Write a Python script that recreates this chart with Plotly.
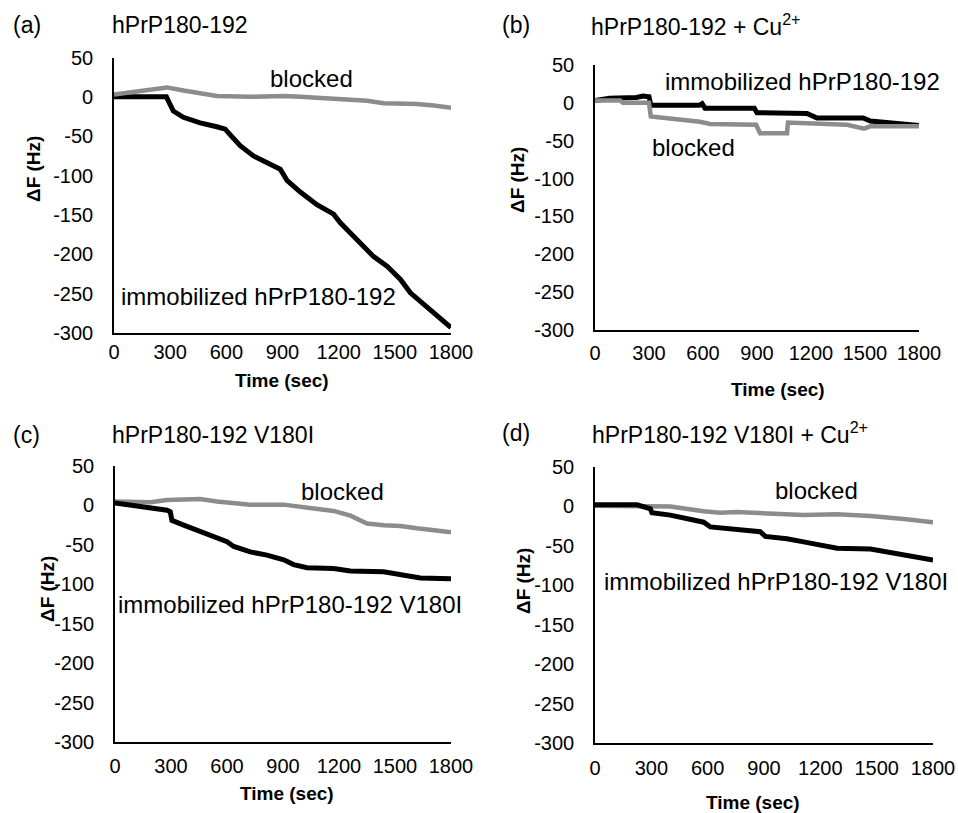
import plotly.graph_objects as go

# ---------------- data ----------------
t_a_imm = [0, 100, 280, 300, 317, 371, 460, 549, 594, 620, 674, 745, 817, 888, 924, 995, 1084, 1173, 1209, 1280, 1352, 1387, 1458, 1530, 1583, 1637, 1708, 1800]
f_a_imm = [0, 0, 0, -10, -18, -26, -33, -38, -41, -48, -62, -75, -84, -92, -106, -121, -137, -149, -160, -177, -194, -203, -215, -232, -249, -260, -274, -293]
t_a_blk = [0, 103, 193, 282, 371, 460, 549, 727, 906, 995, 1173, 1352, 1441, 1619, 1708, 1800]
f_a_blk = [3, 6, 10, 12, 8, 5, 1, 0, 1, 0, -3, -5, -8, -9, -11, -14]

t_b_imm = [0, 81, 230, 267, 300, 310, 581, 595, 611, 885, 900, 1178, 1233, 1490, 1530, 1674, 1800]
f_b_imm = [3, 6, 7, 9, 8, -3, -3, -1, -7, -7, -13, -14, -20, -20, -24, -27, -30]
t_b_blk = [0, 140, 155, 300, 310, 455, 583, 639, 895, 917, 1067, 1072, 1233, 1400, 1495, 1530, 1619, 1800]
f_b_blk = [3, 3, 0, 0, -18, -21, -25, -28, -29, -40, -40, -26, -28, -29, -34, -31, -31, -31]

t_c_imm = [0, 100, 189, 279, 296, 305, 368, 457, 546, 600, 636, 725, 814, 904, 957, 1029, 1171, 1261, 1439, 1529, 1636, 1800]
f_c_imm = [3, 0, -3, -6, -8, -19, -25, -33, -40, -46, -52, -59, -63, -69, -75, -79, -80, -83, -84, -88, -92, -93]
t_c_blk = [0, 189, 279, 457, 546, 725, 904, 1082, 1171, 1261, 1350, 1439, 1529, 1618, 1707, 1800]
f_c_blk = [5, 4, 7, 8, 5, 1, 1, -4, -7, -13, -23, -25, -26, -29, -31, -34]

t_d_imm = [0, 224, 295, 303, 401, 490, 579, 614, 756, 880, 907, 1022, 1111, 1200, 1289, 1467, 1556, 1645, 1800]
f_d_imm = [2, 2, -3, -8, -11, -15, -20, -26, -30, -32, -38, -41, -45, -49, -53, -54, -58, -62, -68]
t_d_blk = [0, 224, 401, 579, 668, 756, 934, 1111, 1289, 1467, 1645, 1800]
f_d_blk = [1, 1, 0, -6, -8, -7, -9, -11, -10, -12, -16, -20]

x_ticks = [0, 300, 600, 900, 1200, 1500, 1800]
y_ticks = [50, 0, -50, -100, -150, -200, -250, -300]

panel_letters = ["(a)", "(b)", "(c)", "(d)"]
panel_titles = ["hPrP180-192", "hPrP180-192 + Cu<sup>2+</sup>",
                "hPrP180-192 V180I", "hPrP180-192 V180I + Cu<sup>2+</sup>"]
imm_labels = ["immobilized hPrP180-192", "immobilized hPrP180-192",
              "immobilized hPrP180-192 V180I", "immobilized hPrP180-192 V180I"]
blk_label = "blocked"
x_title = "Time (sec)"
y_title = "ΔF (Hz)"

# ---------------- layout geometry (pixels) ----------------
W, H = 958, 813
def px(x):
    return x / W
def py(y):
    return 1 - y / H

# plot areas: (left, right, top, bottom)
areas = [(114, 451, 57.5, 333), (595, 919, 65, 330),
         (115, 451, 466, 742), (595, 933, 467, 743)]

BLACK = "#000000"
GRAY = "#8c8c8c"
FONT = "Liberation Sans, Arial, sans-serif"

fig = go.Figure()

series = [
    (t_a_imm, f_a_imm, t_a_blk, f_a_blk, True),
    (t_b_imm, f_b_imm, t_b_blk, f_b_blk, True),
    (t_c_imm, f_c_imm, t_c_blk, f_c_blk, False),
    (t_d_imm, f_d_imm, t_d_blk, f_d_blk, False),
]

for i, (ti, fi, tb, fb, gray_on_top) in enumerate(series):
    xa = "x" if i == 0 else f"x{i+1}"
    ya = "y" if i == 0 else f"y{i+1}"
    imm = go.Scatter(x=ti, y=fi, mode="lines", line=dict(color=BLACK, width=5),
                     xaxis=xa, yaxis=ya, showlegend=False, name="immobilized")
    blk = go.Scatter(x=tb, y=fb, mode="lines", line=dict(color=GRAY, width=4.5),
                     xaxis=xa, yaxis=ya, showlegend=False, name="blocked")
    if gray_on_top:
        fig.add_trace(imm)
        fig.add_trace(blk)
    else:
        fig.add_trace(blk)
        fig.add_trace(imm)

layout = dict(
    width=W, height=H,
    margin=dict(l=0, r=0, t=0, b=0, autoexpand=False),
    paper_bgcolor="white", plot_bgcolor="white",
    font=dict(family=FONT, size=20, color="#000000"),
    showlegend=False,
)

xlab_pad = [0, 4, 5, 6]
for i, (l, r, t, b) in enumerate(areas):
    sx = "xaxis" if i == 0 else f"xaxis{i+1}"
    sy = "yaxis" if i == 0 else f"yaxis{i+1}"
    ya = "y" if i == 0 else f"y{i+1}"
    xa = "x" if i == 0 else f"x{i+1}"
    layout[sx] = dict(domain=[px(l), px(r)], range=[0, 1800], anchor=ya,
                      tickvals=x_ticks, ticktext=[str(v) for v in x_ticks],
                      showgrid=False, zeroline=False, showline=True,
                      linecolor="#000000", linewidth=1.6,
                      ticks="outside" if xlab_pad[i] > 0 else "",
                      ticklen=max(xlab_pad[i], 1), tickcolor="rgba(0,0,0,0)",
                      tickfont=dict(size=20), automargin=False)
    layout[sy] = dict(domain=[py(b), py(t)], range=[-300, 50], anchor=xa,
                      tickvals=y_ticks, ticktext=[str(v) for v in y_ticks],
                      showgrid=False, zeroline=False, showline=True,
                      linecolor="#000000", linewidth=1.6, ticks="outside",
                      ticklen=15, tickcolor="rgba(0,0,0,0)",
                      tickfont=dict(size=20), automargin=False)

fig.update_layout(**layout)

ann = []
def add_text(x, y, text, size=22, bold=False, xanchor="center", angle=0):
    ann.append(dict(x=px(x), y=py(y), xref="paper", yref="paper", text=(f"<b>{text}</b>" if bold else text),
                    showarrow=False, xanchor=xanchor, yanchor="middle", textangle=angle,
                    font=dict(family=FONT, size=size, color="#000000")))

# panel letters and titles
letter_pos = [(11, 25), (500, 25), (11, 435), (500, 433)]
title_pos = [(110, 25), (589, 25), (110, 435), (590, 433)]
for i in range(4):
    add_text(*letter_pos[i], panel_letters[i], size=23, xanchor="left")
    add_text(*title_pos[i], panel_titles[i], size=23, xanchor="left")

# axis titles
xt_pos = [(282, 380), (778, 390), (287, 793), (753, 802)]
yt_pos = [(34, 169), (517, 180), (47, 589), (523, 581)]
for i in range(4):
    add_text(*xt_pos[i], x_title, size=19, bold=True)
    add_text(*yt_pos[i], y_title, size=19, bold=True, angle=-90)

# in-plot series labels
blk_pos = [(311, 78), (693, 147), (342, 491), (816, 490)]
imm_pos = [(258, 297), (802, 82), (290, 604), (776, 581)]
for i in range(4):
    add_text(*blk_pos[i], blk_label, size=24)
    add_text(*imm_pos[i], imm_labels[i], size=24)

fig.update_layout(annotations=ann)
fig.write_html("out.html",
               config={"displayModeBar": False},
               post_script="document.body.style.margin='0px';document.body.style.overflow='hidden';")
